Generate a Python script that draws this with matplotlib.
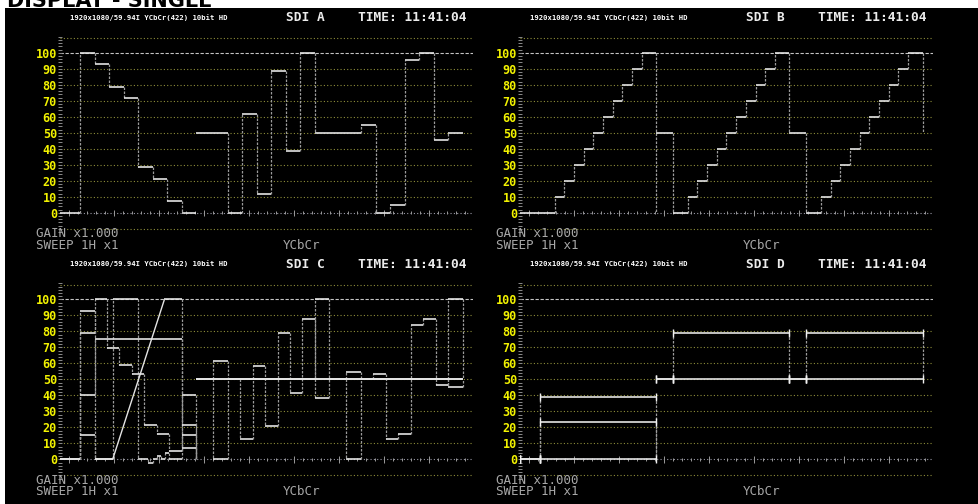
import matplotlib
matplotlib.use("Agg")
import matplotlib.pyplot as plt
from matplotlib.patches import Rectangle
from matplotlib.collections import LineCollection
import numpy as np

W, H, DPI = 979, 504, 100

# ---- line timing of one component (1080i, samples) ----
ACTIVE = 1920
LINE = 2200
SWEEP_START = -330
SWEEP_END = 6490
COMPONENTS = ["Y", "Cb", "Cr"]
BLANK = {"Y": 0.0, "Cb": 50.0, "Cr": 50.0}

# ---- SDI A: 100% colour bars ----
bars_w = [240] * 8
bars_y = [100, 92.8, 78.7, 71.5, 28.5, 21.3, 7.2, 0]
bars_cb = [50, 0, 61.5, 11.5, 88.5, 38.5, 100, 50]
bars_cr = [50, 54.6, 0, 4.6, 95.4, 100, 45.4, 50]

# ---- SDI B: 10 % staircase on all components ----
stair_w = [240] + [160] * 9 + [240]
stair_levels = [0, 10, 20, 30, 40, 50, 60, 70, 80, 90, 100]

# ---- SDI C: multiformat colour bars (four picture rows overlaid) ----
row1_w = [240] + [205.7] * 7 + [240]
row1_y = [40, 75, 69.6, 59.1, 53.6, 21.4, 15.9, 5.4, 40]
row1_cb = [50, 50, 12.5, 58.6, 21.1, 78.9, 41.4, 87.5, 50]
row1_cr = [50, 50, 53.4, 12.5, 15.9, 84.1, 87.5, 46.6, 50]

row2_w = [240, 205.7, 1234.3, 240]
row2_y = [78.7, 100, 75, 7.2]
row2_cb = [61.5, 50, 50, 100]
row2_cr = [0, 50, 50, 45.4]

row3_w = [240, 300, 855, 285, 240]
row3_y = [92.8, 0, (0, 100), 100, 21.3]
row3_cb = [0, 50, 50, 50, 38.5]
row3_cr = [54.6, 50, 50, 50, 100]

row4_w = [240, 308.6, 411.4, 171.4, 68.6, 68.6, 68.6, 68.6, 68.6, 205.7, 240]
row4_y = [15, 0, 100, 0, -2, 0, 2, 0, 4, 0, 15]
row4_cb = [50] * 11
row4_cr = [50] * 11

# ---- SDI D: flat fields ----
flat_w = [1920]
flat_y = [0, 23.5, 39]
flat_cb = [50, 79]
flat_cr = [50, 79]

# ---- on-screen text ----
FORMAT_TEXT = "1920x1080/59.94I YCbCr(422) 10bit HD"
TIME_TEXT = "TIME: 11:41:04"
GAIN_TEXT = "GAIN x1.000"
SWEEP_TEXT = "SWEEP 1H x1"
MODE_TEXT = "YCbCr"
Y_TICKS = [0, 10, 20, 30, 40, 50, 60, 70, 80, 90, 100]
GRID_LEVELS = [-10, 10, 20, 30, 40, 50, 60, 70, 80, 90, 109]

panels = {
    "A": [(bars_w, bars_y, bars_cb, bars_cr)],
    "B": [(stair_w, stair_levels, stair_levels, stair_levels)],
    "C": [(row1_w, row1_y, row1_cb, row1_cr),
          (row2_w, row2_y, row2_cb, row2_cr),
          (row3_w, row3_y, row3_cb, row3_cr),
          (row4_w, row4_y, row4_cb, row4_cr)],
    "D": ([(flat_w, [y], None, None) for y in flat_y] +
          [(flat_w, None, [c], None) for c in flat_cb] +
          [(flat_w, None, None, [r]) for r in flat_cr]),
}

# panel placement: grid left edge and 0 % line, in pixels
PANEL_POS = {"A": (60, 212.8), "B": (520, 212.8), "C": (60, 459.3), "D": (520, 459.3)}
GRID_W = 413
PX_PER_UNIT = 1.6
YLO, YHI = -12.5, 111.5

MONO = "DejaVu Sans Mono"
TRACE = "#e4e4e4"
EDGE = "#9a9a9a"

fig = plt.figure(figsize=(W / DPI, H / DPI), dpi=DPI, facecolor="white")
fig.patches.append(Rectangle((5 / W, 0), 1 - 5 / W, 1 - 8 / H, transform=fig.transFigure,
                             facecolor="black", edgecolor="none", zorder=-10))
fig.text(7 / W, 1 - 6.7 / H, "DISPLAY - SINGLE", fontsize=15, fontweight="bold",
         color="black", ha="left", va="baseline", zorder=-20)


def fpos(x, y):
    return x / W, 1 - y / H


def draw_component(ax, k, widths, levels, end_ticks):
    blank = BLANK[COMPONENTS[k]]
    x0 = k * LINE
    bstart = SWEEP_START if k == 0 else x0 - (LINE - ACTIVE)
    hsegs = [((bstart, blank), (x0, blank))]
    vsegs = []
    ramps = []
    prev = blank
    x = x0
    for w, lv in zip(widths, levels):
        a, b = lv if isinstance(lv, tuple) else (lv, lv)
        if a != prev:
            vsegs.append(((x, prev), (x, a)))
        if a == b:
            hsegs.append(((x, a), (x + w, b)))
        else:
            ramps.append(((x, a), (x + w, b)))
        prev = b
        x += w
    if prev != blank:
        vsegs.append(((x, prev), (x, blank)))
    ax.add_collection(LineCollection(vsegs, colors=EDGE, linewidths=0.9,
                                     linestyles=[(0, (2, 1.2))], zorder=3))
    ax.add_collection(LineCollection(hsegs, colors=TRACE, linewidths=1.2, zorder=4))
    if ramps:
        ax.add_collection(LineCollection(ramps, colors=TRACE, linewidths=1.0, zorder=4))
    if end_ticks:
        pts = [p for seg in hsegs for p in seg]
        ax.plot([p[0] for p in pts], [p[1] for p in pts], ls="none", marker="|",
                ms=6, mew=1.0, color="#f0f0f0", zorder=5)


for name, lines in panels.items():
    gx, gy0 = PANEL_POS[name]
    top_px = gy0 - YHI * PX_PER_UNIT
    bot_px = gy0 - YLO * PX_PER_UNIT
    l, b = fpos(gx, bot_px)
    ax = fig.add_axes([l, b, GRID_W / W, (bot_px - top_px) / H])
    ax.set_facecolor("none")
    ax.set_xlim(SWEEP_START, SWEEP_END)
    ax.set_ylim(YLO, YHI)
    for s in ax.spines.values():
        s.set_visible(False)
    ax.set_xticks([])
    ax.set_yticks(Y_TICKS)
    ax.set_yticklabels([str(v) for v in Y_TICKS])
    ax.tick_params(axis="y", length=0, pad=2.2, labelcolor="#f2f200", labelsize=8.5)
    for t in ax.get_yticklabels():
        t.set_fontfamily(MONO)
        t.set_fontweight("bold")

    # graticule
    for v in GRID_LEVELS:
        ax.axhline(v, color="#8e8e3a", lw=0.8, ls=(0, (1, 2)), zorder=1)
    ax.axhline(100, color="#c4c4c4", lw=0.8, ls=(0, (3, 1.5)), zorder=1)
    ax.axhline(0, color="#9a9aa8", lw=0.8, ls=(0, (1, 2)), zorder=1)
    tx = np.arange(SWEEP_START + 150, SWEEP_END, 148.5)
    ax.vlines(tx, -1.0, 1.0, color="#9a9a9a", lw=0.7, zorder=1)
    ax.vlines(tx[::5], -2.0, 2.0, color="#9a9a9a", lw=0.7, zorder=1)
    scale = np.arange(-12, 112, 2)
    ax.hlines(scale, SWEEP_START - 30, SWEEP_START + 30, color="#8a8a8a", lw=0.7,
              clip_on=False, zorder=1)

    for widths, ys, cbs, crs in lines:
        for k, levels in enumerate((ys, cbs, crs)):
            if levels is not None:
                draw_component(ax, k, widths, levels, end_ticks=(name == "D"))

    # text around the graticule
    fig.text(*fpos(gx + 89, gy0 - 195.5), FORMAT_TEXT, fontsize=5.2, family=MONO,
             fontweight="bold", color="white", ha="center", va="center")
    fig.text(*fpos(gx + 245, gy0 - 195.2), "SDI " + name, fontsize=9.3, family=MONO,
             fontweight="bold", color="#ececec", ha="center", va="center")
    fig.text(*fpos(gx + 352, gy0 - 195.2), TIME_TEXT, fontsize=9.3, family=MONO,
             fontweight="bold", color="#ececec", ha="center", va="center")
    fig.text(*fpos(gx - 24.3, gy0 + 20.7), GAIN_TEXT, fontsize=9, family=MONO,
             color="#a8a8a8", ha="left", va="center")
    fig.text(*fpos(gx - 24.3, gy0 + 32.3), SWEEP_TEXT, fontsize=9, family=MONO,
             color="#a8a8a8", ha="left", va="center")
    fig.text(*fpos(gx + 241.5, gy0 + 32.3), MODE_TEXT, fontsize=9, family=MONO,
             color="#a8a8a8", ha="center", va="center")

fig.savefig("out.png", dpi=DPI, facecolor="white")
